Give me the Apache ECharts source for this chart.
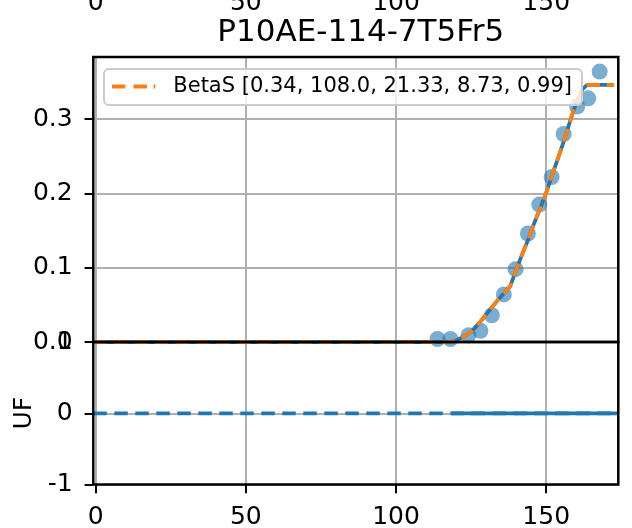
<!DOCTYPE html>
<html><head><meta charset="utf-8">
<script src="https://cdn.jsdelivr.net/npm/echarts@6/dist/echarts.min.js"></script>
<style>html,body{margin:0;padding:0;background:#fff}#c{width:632px;height:528px}</style>
</head><body><div id="c"></div>
<script>
// ---- data ----
const titleText = 'P10AE-114-7T5Fr5';
const legendName = 'BetaS [0.34, 108.0, 21.33, 8.73, 0.99]';
const xTicks = [0, 50, 100, 150];
const yTicksTop = [0, 0.1, 0.2, 0.3];
const yTicksBottom = [-1, 0, 1];
const yLabelBottom = 'UF';
const obsX = [113.8, 118.1, 124.1, 128.1, 131.9, 135.9, 139.8, 143.9, 147.7, 151.8, 155.8, 160.3, 164.0, 167.8];
const obsY = [0.004, 0.004, 0.009, 0.015, 0.036, 0.064, 0.098, 0.146, 0.185, 0.222, 0.280, 0.317, 0.328, 0.364];
const fitX = [-0.8, 118, 120, 122, 124, 126, 128, 130, 132, 134, 136, 138, 140, 142, 144, 146, 148, 150, 152, 154, 156, 158, 160, 162, 163.6, 172.6];
const fitY = [0, 0, 0.002, 0.006, 0.011, 0.018, 0.027, 0.037, 0.047, 0.057, 0.066, 0.075, 0.097, 0.118, 0.138, 0.160, 0.180, 0.201, 0.225, 0.248, 0.272, 0.298, 0.322, 0.340, 0.346, 0.346];
const ufRefX = [-0.8, 174];
const ufRefY = [0, 0];
const ufX = [118.5, 174];
const ufY = [0, 0];
const xMin = -0.8, xMax = 174;
const yTopMin = 0, yTopMax = 0.3836;
const yBotMin = -1, yBotMax = 1;

// ---- chart ----
const FONT = 'DejaVu Sans';
const zip = (xs, ys) => xs.map((x, i) => [x, ys[i]]);
const GL = 93.3, GW = 525;
const gridLine = { show: true, lineStyle: { color: '#b0b0b0', width: 2 } };
const tick = (vals) => ({ show: true, inside: false, length: 8.75, lineStyle: { color: '#000', width: 2 }, customValues: vals });
const noTick = (vals) => ({ show: false, customValues: vals });
const noLine = { show: false, onZero: false };
const lbl = (vals, margin, extra) => Object.assign({ show: true, customValues: vals, color: '#000', fontSize: 25, fontFamily: FONT, margin: margin, showMinLabel: true, showMaxLabel: true }, extra || {});
// legend icon: matplotlib-like dashed segment (two dashes + start of third)
const dashIcon = 'path://M0,0H13.3V4H0Z M21.6,0H35V4H21.6Z M41.6,0H43.3V4H41.6Z';

const chart = echarts.init(document.getElementById('c'), null, { renderer: 'canvas' });
chart.setOption({
  animation: false,
  backgroundColor: '#fff',
  textStyle: { fontFamily: FONT },
  title: {
    text: titleText, left: 355.8, top: 12.5, textAlign: 'center',
    textStyle: { fontSize: 31, fontWeight: 'normal', color: '#000', fontFamily: FONT }
  },
  legend: {
    data: [{ name: legendName, icon: dashIcon }],
    selectedMode: false,
    left: 104, top: 69,
    orient: 'horizontal',
    padding: [7, 10, 8, 8],
    backgroundColor: 'rgba(255,255,255,0.8)',
    borderColor: '#cccccc', borderWidth: 2, borderRadius: 5,
    itemWidth: 43.3, itemHeight: 4,
    itemStyle: { color: '#ff7f0e', borderWidth: 0 },
    textStyle: { fontSize: 21, color: '#000', fontFamily: FONT, padding: [0, 0, 0, 13] }
  },
  grid: [
    { left: GL, top: 57, width: GW, height: 285, show: true, borderColor: '#000', borderWidth: 2.5, backgroundColor: 'transparent', z: 3, outerBoundsMode: 'none', containLabel: false },
    { left: GL, top: 342, width: GW, height: 142.5, show: true, borderColor: '#000', borderWidth: 2.5, backgroundColor: 'transparent', z: 3, outerBoundsMode: 'none', containLabel: false },
    { left: GL, top: -100, width: GW, height: 80, show: false, outerBoundsMode: 'none', containLabel: false }
  ],
  xAxis: [
    { type: 'value', gridIndex: 0, min: xMin, max: xMax, axisLine: noLine, axisTick: noTick(xTicks), axisLabel: { show: false, customValues: xTicks }, splitLine: gridLine },
    { type: 'value', gridIndex: 1, min: xMin, max: xMax, axisLine: noLine, axisTick: tick(xTicks), axisLabel: lbl(xTicks, 20), splitLine: gridLine },
    { type: 'value', gridIndex: 2, min: xMin, max: xMax, axisLine: noLine, axisTick: noTick(xTicks), axisLabel: lbl(xTicks, 10.6), splitLine: { show: false } }
  ],
  yAxis: [
    { type: 'value', gridIndex: 0, min: yTopMin, max: yTopMax, axisLine: noLine, axisTick: tick(yTicksTop),
      axisLabel: lbl(yTicksTop, 20.6, { formatter: v => Number(v).toFixed(1), padding: [6, 0, 0, 0] }), splitLine: gridLine },
    { type: 'value', gridIndex: 1, min: yBotMin, max: yBotMax, axisLine: noLine, axisTick: tick(yTicksBottom),
      axisLabel: lbl(yTicksBottom, 20.6, { formatter: v => String(Math.round(v)), padding: [6, 0, 0, 0] }), splitLine: gridLine,
      name: yLabelBottom, nameLocation: 'middle', nameGap: 53, nameTextStyle: { fontSize: 25, color: '#000', fontFamily: FONT } },
    { type: 'value', gridIndex: 2, min: 0, max: 1, show: false }
  ],
  series: [
    { type: 'scatter', name: 'obs', xAxisIndex: 0, yAxisIndex: 0, data: zip(obsX, obsY), symbolSize: 16,
      itemStyle: { color: '#1f77b4', opacity: 0.6 }, z: 1, clip: true },
    { type: 'line', name: 'fitline', xAxisIndex: 0, yAxisIndex: 0, data: zip(fitX, fitY), symbol: 'none',
      lineStyle: { color: '#1f77b4', width: 3.75 }, itemStyle: { color: '#1f77b4' }, z: 2, clip: true },
    { type: 'line', name: legendName, xAxisIndex: 0, yAxisIndex: 0, data: zip(fitX, fitY), symbol: 'none',
      lineStyle: { color: '#ff7f0e', width: 3.75, type: [13.5, 7] }, itemStyle: { color: '#ff7f0e' }, z: 2, clip: true },
    { type: 'line', name: 'ufref', xAxisIndex: 1, yAxisIndex: 1, data: zip(ufRefX, ufRefY), symbol: 'none',
      lineStyle: { color: '#1f77b4', width: 3.75, type: [13.5, 7.5] }, z: 2, clip: true },
    { type: 'line', name: 'uf', xAxisIndex: 1, yAxisIndex: 1, data: zip(ufX, ufY), symbol: 'none',
      lineStyle: { color: '#1f77b4', width: 3.75 }, z: 2, clip: true }
  ]
});
</script></body></html>
